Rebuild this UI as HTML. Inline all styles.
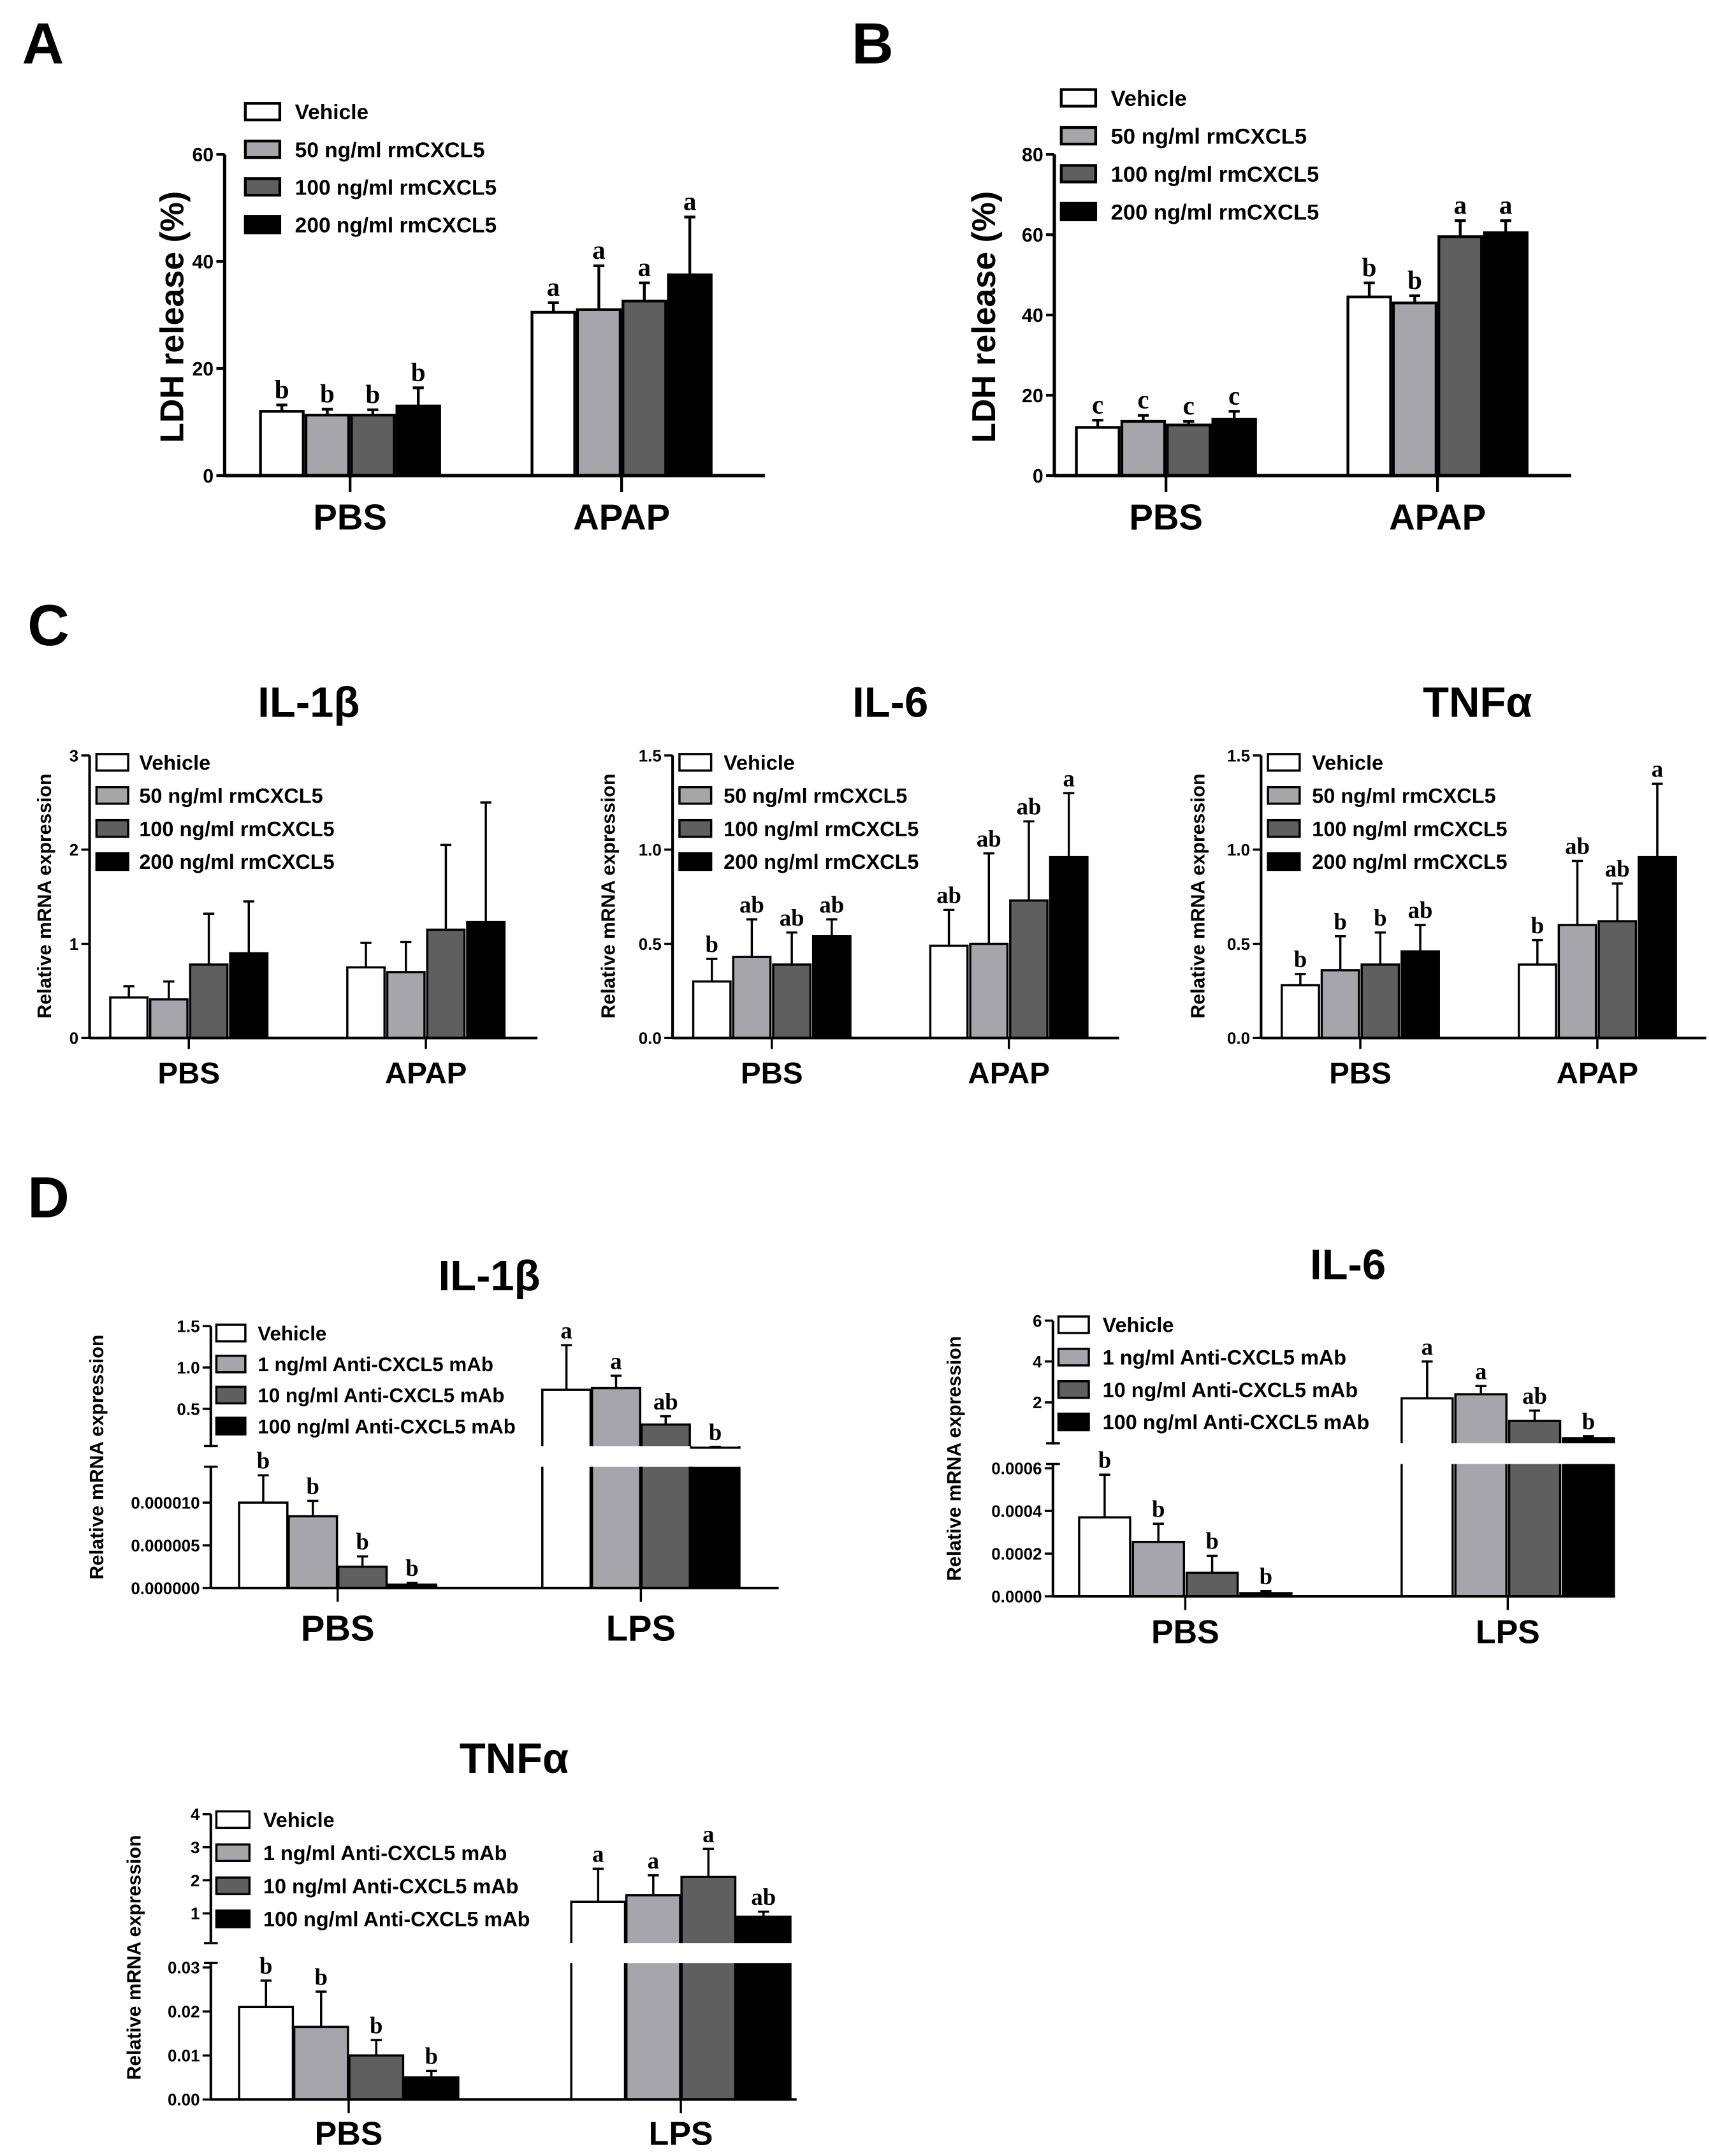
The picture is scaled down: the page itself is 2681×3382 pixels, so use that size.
<!DOCTYPE html>
<html><head><meta charset="utf-8"><style>
html,body{margin:0;padding:0;background:#fff;}
svg{display:block;}
text{font-family:"Liberation Sans",sans-serif;font-weight:bold;fill:#000;}
.let{font-family:"Liberation Serif",serif;font-weight:bold;}
</style></head><body>
<svg id="fig" xmlns="http://www.w3.org/2000/svg" width="2681" height="3382" viewBox="0 0 1240 1564" preserveAspectRatio="none">
<rect width="1240" height="1564" fill="#fff"/>
<text x="16" y="46" font-size="42">A</text>
<text x="618" y="46" font-size="42">B</text>
<text x="20" y="468" font-size="42">C</text>
<text x="20" y="883" font-size="42">D</text>
</svg>
<script>
// ---------- data ----------
const catsA=["PBS","APAP"], catsD=["PBS","LPS"];
const legendRm=["Vehicle","50 ng/ml rmCXCL5","100 ng/ml rmCXCL5","200 ng/ml rmCXCL5"];
const legendAb=["Vehicle","1 ng/ml Anti-CXCL5 mAb","10 ng/ml Anti-CXCL5 mAb","100 ng/ml Anti-CXCL5 mAb"];
// Panel A
const aMean=[[12,30.5],[11.3,31],[11.3,32.6],[13,37.5]];
const aTop=[[13.2,32.3],[12.4,39.2],[12.3,36],[16.4,48.3]];
const aLet=[["b","a"],["b","a"],["b","a"],["b","a"]];
const aTicks=[0,20,40,60];
// Panel B
const bMean=[[12,44.5],[13.5,43],[12.6,59.5],[14,60.5]];
const bTop=[[13.8,48],[15,44.8],[13.5,63.5],[16,63.5]];
const bLet=[["c","b"],["c","b"],["c","a"],["c","a"]];
const bTicks=[0,20,40,60,80];
// Panel C IL-1b
const c1Mean=[[0.43,0.75],[0.41,0.7],[0.78,1.15],[0.9,1.23]];
const c1Top=[[0.55,1.01],[0.6,1.02],[1.32,2.05],[1.45,2.5]];
const c1Let=[["",""],["",""],["",""],["",""]];
const c1Ticks=[0,1,2,3];
// Panel C IL-6
const c2Mean=[[0.3,0.49],[0.43,0.5],[0.39,0.73],[0.54,0.96]];
const c2Top=[[0.42,0.68],[0.63,0.98],[0.56,1.15],[0.63,1.3]];
const c2Let=[["b","ab"],["ab","ab"],["ab","ab"],["ab","a"]];
const c2Ticks=[0,0.5,1.0,1.5];
const c2TickLabels=["0.0","0.5","1.0","1.5"];
// Panel C TNFa
const c3Mean=[[0.28,0.39],[0.36,0.6],[0.39,0.62],[0.46,0.96]];
const c3Top=[[0.34,0.52],[0.54,0.94],[0.56,0.82],[0.6,1.35]];
const c3Let=[["b","b"],["b","ab"],["b","ab"],["ab","a"]];
// Panel D IL-1b
const d1Mean=[[1.0e-5,0.73],[8.4e-6,0.75],[2.5e-6,0.31],[4e-7,0.03]];
const d1Top=[[1.32e-5,1.27],[1.02e-5,0.9],[3.7e-6,0.41],[6e-7,0.04]];
const d1Let=[["b","a"],["b","a"],["b","ab"],["b","b"]];
const d1LowTicks=[0,0.000005,0.00001], d1LowLabels=["0.000000","0.000005","0.000010"];
const d1UpTicks=[0.5,1.0,1.5], d1UpLabels=["0.5","1.0","1.5"];
// Panel D IL-6
const d2Mean=[[3.7e-4,2.2],[2.55e-4,2.4],[1.1e-4,1.1],[1.5e-5,0.25]];
const d2Top=[[5.7e-4,4.0],[3.4e-4,2.8],[1.9e-4,1.6],[2.5e-5,0.35]];
const d2Let=[["b","a"],["b","a"],["b","ab"],["b","b"]];
const d2LowTicks=[0,0.0002,0.0004,0.0006], d2LowLabels=["0.0000","0.0002","0.0004","0.0006"];
const d2UpTicks=[2,4,6], d2UpLabels=["2","4","6"];
// Panel D TNFa
const d3Mean=[[0.021,1.35],[0.0165,1.55],[0.01,2.1],[0.005,0.9]];
const d3Top=[[0.027,2.35],[0.0245,2.15],[0.0135,2.95],[0.0065,1.05]];
const d3Let=[["b","a"],["b","a"],["b","a"],["b","ab"]];
const d3LowTicks=[0,0.01,0.02,0.03], d3LowLabels=["0.00","0.01","0.02","0.03"];
const d3UpTicks=[1,2,3,4], d3UpLabels=["1","2","3","4"];

// ---------- drawing ----------
const NS="http://www.w3.org/2000/svg";
const svg=document.getElementById('fig');
const fills=["#ffffff","#a6a6aa","#5f5f5f","#000000"];
function mk(tag,attrs,parent){const e=document.createElementNS(NS,tag);for(const k in attrs)e.setAttribute(k,attrs[k]);(parent||svg).appendChild(e);return e;}
function lin(v0,v1,y0,y1){return v=>y0+(v-v0)*(y1-y0)/(v1-v0);}

function chart(cfg,cats,legend,mean,top,lets){
  const g=mk('g',{});
  
  
  const sw=cfg.sw;
  const segs=cfg.segs.map(s=>Object.assign({},s,{f:lin(s.v0,s.v1,s.y0,s.y1)}));
  const low=segs[0], up=segs[1];
  function segOf(v){return (!up||v<=low.v1)?low:up;}
  function yS(v){return segOf(v).f(v);}
  // title
  if(cfg.title){const t=mk('text',{x:cfg.title[1],y:cfg.title[2],'font-size':cfg.title[3],'text-anchor':'middle'},g);t.textContent=cfg.title[0];}
  // y label
  const yl=mk('text',{x:0,y:0,'font-size':cfg.yl[3],'text-anchor':'middle',transform:`translate(${cfg.yl[1]},${cfg.yl[2]}) rotate(-90)`},g);
  yl.textContent=cfg.yl[0];
  
  
  // bars
  const nS=mean.length;
  cats.forEach((c,ci)=>{
    const cx=cfg.centers[ci];
    for(let s=0;s<nS;s++){
      const x=cx+(s-(nS-1)/2)*cfg.step-cfg.barW/2;
      const v=mean[s][ci], tv=top[s][ci];
      const bg=mk('g',{},g);
      
      
      if(segOf(v)===low){
        const y=low.f(v);
        mk('rect',{x:x,y:y,width:cfg.barW,height:low.y0-y,fill:fills[s],stroke:'#000','stroke-width':sw},bg);
      } else {
        mk('rect',{x:x,y:low.y1,width:cfg.barW,height:low.y0-low.y1,fill:fills[s],stroke:'none'},bg);
        mk('path',{d:`M${x},${low.y1}V${low.y0}H${x+cfg.barW}V${low.y1}`,fill:'none',stroke:'#000','stroke-width':sw},bg);
        const y=up.f(v);
        mk('rect',{x:x,y:y,width:cfg.barW,height:up.y0-y,fill:fills[s],stroke:'none'},bg);
        mk('path',{d:`M${x},${up.y0}V${y}H${x+cfg.barW}V${up.y0}`,fill:'none',stroke:'#000','stroke-width':sw},bg);
      }
      const xm=x+cfg.barW/2, yv=yS(v), yt=yS(tv);
      const eb=mk('path',{d:`M${xm},${yv}V${yt}M${xm-4},${yt}H${xm+4}`,stroke:'#000','stroke-width':sw,fill:'none'},bg);
      
      
      if(lets[s][ci]){const lt=mk('text',{x:xm,y:yt-5,'font-size':cfg.letFs,'text-anchor':'middle',class:'let'},bg);lt.textContent=lets[s][ci];}
    }
    // x tick + label
    mk('line',{x1:cx,x2:cx,y1:low.y0,y2:low.y0+cfg.xTick,stroke:'#000','stroke-width':sw},g);
    const xl=mk('text',{x:cx,y:cfg.catY,'font-size':cfg.catFs,'text-anchor':'middle'},g);
    xl.textContent=c;
    
    
  });
  // axes
  mk('line',{x1:cfg.ax,x2:cfg.xEnd,y1:low.y0,y2:low.y0,stroke:'#000','stroke-width':sw*1.2},g);
  segs.forEach(s=>{
    mk('line',{x1:cfg.ax,x2:cfg.ax,y1:s.y0+sw/2,y2:s.y1,stroke:'#000','stroke-width':sw*1.2},g);
    if(up){mk('line',{x1:cfg.ax-5,x2:cfg.ax+5,y1:s===low?s.y1:s.y0,y2:s===low?s.y1:s.y0,stroke:'#000','stroke-width':sw},g);}
    s.ticks.forEach((t,i)=>{
      const y=s.f(t);
      mk('line',{x1:cfg.ax-6,x2:cfg.ax,y1:y,y2:y,stroke:'#000','stroke-width':sw},g);
      const tl=mk('text',{x:cfg.ax-8,y:y+cfg.tickFs*0.36,'font-size':cfg.tickFs,'text-anchor':'end'},g);
      tl.textContent=s.labels[i];
      
      
    });
  });
  // legend
  legend.forEach((L,i)=>{
    const y=cfg.leg.y+i*cfg.leg.dy;
    const le=mk('g',{},g);
    
    
    mk('rect',{x:cfg.leg.x,y:y-cfg.leg.bh/2,width:cfg.leg.bw,height:cfg.leg.bh,fill:fills[i],stroke:'#000','stroke-width':sw},le);
    const t=mk('text',{x:cfg.leg.x+cfg.leg.bw+cfg.leg.gap,y:y+cfg.leg.fs*0.36,'font-size':cfg.leg.fs},le);
    t.textContent=L;
  });
}
const S=(v0,v1,y0,y1,ticks,labels)=>({v0,v1,y0,y1,ticks,labels});

chart({name:'chart-a-ldh',sw:2,ax:163,xEnd:555,segs:[S(0,60,345,112,aTicks,aTicks.map(String))],centers:[254,451],barW:31,step:33,
  yl:['LDH release (%)',133,230,24],catY:384,catFs:26,xTick:12,tickFs:14,letFs:19,
  leg:{x:178,y:81,dy:27.3,bw:25,bh:12,gap:11,fs:15.5}},catsA,legendRm,aMean,aTop,aLet);
chart({name:'chart-b-ldh',sw:2,ax:765,xEnd:1140,segs:[S(0,80,345,112,bTicks,bTicks.map(String))],centers:[846,1043],barW:31,step:33,
  yl:['LDH release (%)',722,230,24],catY:384,catFs:26,xTick:12,tickFs:14,letFs:19,
  leg:{x:770,y:71,dy:27.5,bw:25,bh:12,gap:11,fs:16}},catsA,legendRm,bMean,bTop,bLet);
chart({name:'chart-c-il1b',sw:1.6,ax:65,xEnd:390,segs:[S(0,3,753,548,c1Ticks,c1Ticks.map(String))],centers:[137,309],barW:27,step:29,
  title:['IL-1β',224,520,31],yl:['Relative mRNA expression',37,650,14],catY:786,catFs:22,xTick:8,tickFs:12,letFs:17,
  leg:{x:70,y:553,dy:24,bw:23,bh:12,gap:8,fs:15}},catsA,legendRm,c1Mean,c1Top,c1Let);
chart({name:'chart-c-il6',sw:1.6,ax:488,xEnd:812,segs:[S(0,1.5,753,548,c2Ticks,c2TickLabels)],centers:[560,732],barW:27,step:29,
  title:['IL-6',646,520,31],yl:['Relative mRNA expression',446,650,14],catY:786,catFs:22,xTick:8,tickFs:12,letFs:17,
  leg:{x:493,y:553,dy:24,bw:23,bh:12,gap:9,fs:15}},catsA,legendRm,c2Mean,c2Top,c2Let);
chart({name:'chart-c-tnfa',sw:1.6,ax:915,xEnd:1238,segs:[S(0,1.5,753,548,c2Ticks,c2TickLabels)],centers:[987,1159],barW:27,step:29,
  title:['TNFα',1072,520,31],yl:['Relative mRNA expression',874,650,14],catY:786,catFs:22,xTick:8,tickFs:12,letFs:17,
  leg:{x:920,y:553,dy:24,bw:23,bh:12,gap:9,fs:15}},catsA,legendRm,c3Mean,c3Top,c3Let);
chart({name:'chart-d-il1b',sw:1.6,ax:153,xEnd:565,segs:[S(0,1.42e-5,1152,1064,d1LowTicks,d1LowLabels),S(0.05,1.5,1049,962,d1UpTicks,d1UpLabels)],centers:[245,465],barW:35,step:36,
  title:['IL-1β',355,936,31],yl:['Relative mRNA expression',75,1057,14],catY:1190,catFs:26,xTick:10,tickFs:12,letFs:17,
  leg:{x:157,y:967,dy:22.5,bw:21,bh:12,gap:9,fs:14.5}},catsD,legendAb,d1Mean,d1Top,d1Let);
chart({name:'chart-d-il6',sw:1.6,ax:764,xEnd:1172,segs:[S(0,0.00062,1158,1062,d2LowTicks,d2LowLabels),S(0,6,1047,958,d2UpTicks,d2UpLabels)],centers:[860,1094],barW:37,step:39,
  title:['IL-6',978,928,31],yl:['Relative mRNA expression',697,1058,14],catY:1192,catFs:24,xTick:10,tickFs:12,letFs:17,
  leg:{x:768,y:961,dy:23.5,bw:22,bh:12,gap:10,fs:15}},catsD,legendAb,d2Mean,d2Top,d2Let);
chart({name:'chart-d-tnfa',sw:1.6,ax:153,xEnd:578,segs:[S(0,0.031,1523,1424,d3LowTicks,d3LowLabels),S(0.1,4,1409.6,1316,d3UpTicks,d3UpLabels)],centers:[253,494],barW:39,step:40,
  title:['TNFα',373,1286,31],yl:['Relative mRNA expression',102,1420,14],catY:1556,catFs:24,xTick:10,tickFs:12,letFs:17,
  leg:{x:157,y:1320,dy:24,bw:24,bh:12,gap:10,fs:15}},catsD,legendAb,d3Mean,d3Top,d3Let);
</script>
</body></html>
